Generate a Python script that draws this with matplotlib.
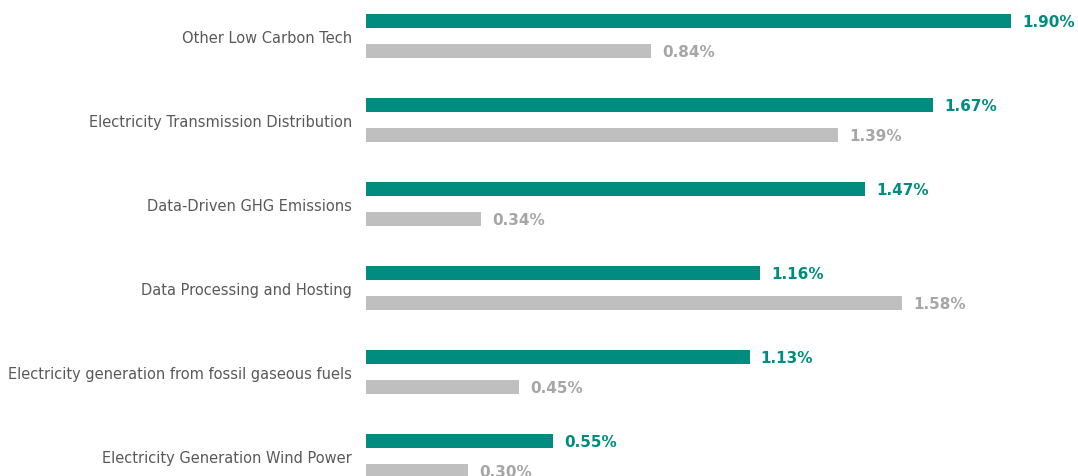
import matplotlib.pyplot as plt

# Catégories et valeurs (en %)
categories = ['Other Low Carbon Tech', 'Electricity Transmission Distribution',
              'Data-Driven GHG Emissions', 'Data Processing and Hosting',
              'Electricity generation from fossil gaseous fuels',
              'Electricity Generation Wind Power']
teal_values = [1.90, 1.67, 1.47, 1.16, 1.13, 0.55]
gray_values = [0.84, 1.39, 0.34, 1.58, 0.45, 0.30]

teal = '#008C7E'
gray_bar = '#BFBFBF'
gray_txt = '#A6A6A6'

fig = plt.figure(figsize=(10.78, 4.77), dpi=100)
ax = fig.add_axes([366 / 1078, 0, 712 / 1078, 1])

pos = list(range(len(categories)))
off = 0.18
h = 0.17
ax.barh([p - off for p in pos], teal_values, height=h, color=teal)
ax.barh([p + off for p in pos], gray_values, height=h, color=gray_bar)

# Étiquettes de valeurs
for p, v in zip(pos, teal_values):
    ax.annotate(f'{v:.2f}%', (v, p - off), xytext=(8, 0), textcoords='offset points',
                va='center', ha='left', fontsize=11, fontweight='bold', color=teal)
for p, v in zip(pos, gray_values):
    ax.annotate(f'{v:.2f}%', (v, p + off), xytext=(8, 0), textcoords='offset points',
                va='center', ha='left', fontsize=11, fontweight='bold', color=gray_txt)

ax.set_yticks(pos)
ax.set_yticklabels(categories, fontsize=10.5, color='#595959')
ax.tick_params(axis='y', length=0, pad=10)
ax.set_xticks([])
ax.set_xlim(0, 712 / 339.5)
ax.set_ylim(-0.442 + 477 / 84, -0.442)
for s in ax.spines.values():
    s.set_visible(False)

plt.savefig('out.png', dpi=100)
